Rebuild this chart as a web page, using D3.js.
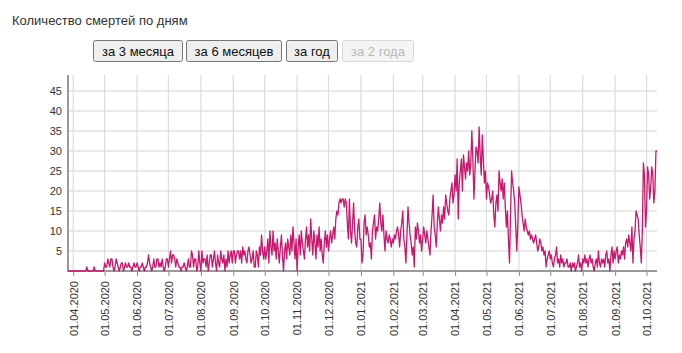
<!DOCTYPE html>
<html>
<head>
<meta charset="utf-8">
<script src="https://cdn.jsdelivr.net/npm/d3@7"></script>
<style>
  body { margin: 0; background: #fff; }
  svg { display: block; font-family: Arial, "Liberation Sans", sans-serif; }
</style>
</head>
<body>
<svg id="chart" width="682" height="353"></svg>
<script>
// daily deaths, first value is 27.03.2020
const startDay = new Date(2020, 2, 27);
const mar2020 = [0,0,0,0,0];
const apr2020 = [0,0,0,0,0,0,0,0,0,0,0,0,0,1,0,0,0,0,0,0,1,0,0,0,0,0,0,0,0,0];
const may2020 = [2,1,1,3,2,1,3,3,1,0,1,3,2,1,0,1,2,2,0,1,2,1,1,2,1,1,0,1,2,1,1];
const jun2020 = [2,1,0,1,1,2,1,0,1,1,2,4,2,1,0,1,3,1,1,3,3,1,2,1,3,1,0,1,3,3];
const jul2020 = [1,3,5,2,4,4,3,1,3,2,1,1,0,1,1,2,1,0,1,3,1,1,5,4,1,3,3,0,1,5,2];
const aug2020 = [0,5,2,3,3,1,4,0,2,4,4,1,3,5,2,0,4,2,1,5,3,2,4,0,3,1,5,2,4,5,2];
const sep2020 = [5,5,2,4,5,5,3,5,2,6,4,5,3,2,5,6,4,2,3,5,1,1,5,4,1,6,4,9,5,3];
const oct2020 = [6,3,5,8,2,10,6,4,10,5,7,3,8,5,2,6,9,4,0,5,7,3,8,6,4,9,5,11,7,3,8];
const nov2020 = [0,6,9,4,10,7,5,3,8,11,6,9,5,13,8,4,10,7,3,9,6,11,5,8,4,2,7,10,6,9];
const dec2020 = [5,8,10,7,9,11,8,13,15,14,17,18,17,18,18,16,18,17,12,8,18,10,7,12,17,10,7,6,11,13,8];
const jan2021 = [8,2,4,12,14,9,11,9,6,7,3,10,12,14,8,11,10,13,17,12,10,14,9,5,10,8,7,9,8,6,8];
const feb2021 = [7,9,8,10,11,9,6,10,12,15,8,6,2,9,16,12,9,7,4,6,1,11,8,12,10,7,9,5];
const mar2021 = [8,11,9,7,10,8,6,4,10,14,19,11,9,6,12,16,13,10,14,12,16,13,19,17,15,14,18,20,22,17,19];
const apr2021 = [24,20,28,13,22,25,28,20,29,26,23,27,25,30,24,27,35,28,18,25,31,30,27,36,29,24,34,28,22,25];
const may2021 = [18,22,21,19,17,18,20,14,11,17,19,15,25,22,20,23,18,22,16,11,15,8,2,14,25,22,20,17,11,5,12];
const jun2021 = [21,19,17,14,12,10,13,11,10,9,10,8,9,8,7,8,9,7,5,6,8,7,5,6,4,5,1,3,4,5];
const jul2021 = [3,4,2,1,3,4,6,2,3,1,4,2,3,1,2,2,3,1,1,2,0,2,1,2,0,1,2,4,1,2,0];
const aug2021 = [3,2,4,2,3,1,3,4,2,3,1,0,2,3,1,5,2,1,3,2,3,1,4,5,2,3,0,4,6,2,5];
const sep2021 = [3,5,6,2,4,3,5,4,6,3,7,8,6,9,7,5,11,2,8,10,15,14,13,9,6,2,10,27,24,11];
const oct2021 = [15,26,24,18,21,26,24,17,20,30,30];

const deaths = [].concat(mar2020, apr2020, may2020, jun2020, jul2020, aug2020, sep2020,
    oct2020, nov2020, dec2020, jan2021, feb2021, mar2021, apr2021, may2021, jun2021,
    jul2021, aug2021, sep2021, oct2021);

const yTicks = [5, 10, 15, 20, 25, 30, 35, 40, 45];
const title = 'Количество смертей по дням';
const buttons = ['за 3 месяца', 'за 6 месяцев', 'за год', 'за 2 года'];

const data = deaths.map((v, i) => ({ date: d3.timeDay.offset(startDay, i), value: v }));

const svg = d3.select('#chart');
const margin = { left: 68, right: 657, top: 75, bottom: 271 };
const lineColor = '#c8186e';

// title
svg.append('text')
    .attr('x', 12)
    .attr('y', 25)
    .attr('font-size', 13)
    .attr('fill', '#333')
    .text(title);

// period buttons
const btnX = [93, 186, 286, 342];
const btnW = [89, 95, 51, 71];
const btn = svg.append('g').selectAll('g')
    .data(buttons)
    .join('g')
    .attr('transform', (d, i) => `translate(${btnX[i]},40)`);

btn.append('rect')
    .attr('x', 0.5)
    .attr('y', 0.5)
    .attr('width', (d, i) => btnW[i])
    .attr('height', 21)
    .attr('rx', 2)
    .attr('fill', (d, i) => i === 3 ? '#f4f4f4' : '#efefef')
    .attr('stroke', (d, i) => i === 3 ? '#d8d8d8' : '#767676');

btn.append('text')
    .attr('x', (d, i) => btnW[i] / 2 + 0.5)
    .attr('y', 16)
    .attr('text-anchor', 'middle')
    .attr('font-size', 13)
    .attr('fill', (d, i) => i === 3 ? '#b8b8b8' : '#111')
    .text(d => d);

// scales
const x = d3.scaleTime()
    .domain(d3.extent(data, d => d.date))
    .range([margin.left, margin.right]);

const y = d3.scaleLinear()
    .domain([0, 49])
    .range([margin.bottom, margin.top]);

const monthTicks = d3.timeMonth.range(new Date(2020, 3, 1), new Date(2021, 9, 2));
const fmt = d3.timeFormat('%d.%m.%Y');

// grid
svg.append('g')
    .selectAll('line')
    .data(yTicks)
    .join('line')
    .attr('x1', margin.left)
    .attr('x2', margin.right)
    .attr('y1', d => y(d))
    .attr('y2', d => y(d))
    .attr('stroke', '#e2e2e2')
    .attr('stroke-width', 1.5);

svg.append('g')
    .selectAll('line')
    .data(monthTicks)
    .join('line')
    .attr('x1', d => x(d))
    .attr('x2', d => x(d))
    .attr('y1', margin.top)
    .attr('y2', margin.bottom)
    .attr('stroke', '#dcdcdc')
    .attr('stroke-width', 1.2);

// axes
const yAxis = svg.append('g')
    .attr('transform', `translate(${margin.left},0)`)
    .call(d3.axisLeft(y).tickValues(yTicks).tickSize(0).tickPadding(6));
yAxis.select('.domain').remove();
yAxis.selectAll('text').attr('font-size', 11).attr('fill', '#333').attr('font-family', null);

const xAxis = svg.append('g')
    .attr('transform', `translate(0,${margin.bottom})`)
    .call(d3.axisBottom(x).tickValues(monthTicks).tickFormat(fmt).tickSize(5).tickSizeOuter(0));
xAxis.select('.domain').remove();
xAxis.selectAll('line').attr('stroke', '#888');
xAxis.selectAll('text')
    .attr('font-size', 11)
    .attr('fill', '#333')
    .attr('font-family', null)
    .attr('transform', 'rotate(-90)')
    .attr('text-anchor', 'end')
    .attr('x', -10)
    .attr('y', 0)
    .attr('dy', '0.35em');

svg.append('line')
    .attr('x1', margin.left)
    .attr('x2', margin.left)
    .attr('y1', margin.top)
    .attr('y2', margin.bottom)
    .attr('stroke', '#999')
    .attr('stroke-width', 2);

svg.append('line')
    .attr('x1', margin.left - 1)
    .attr('x2', margin.right)
    .attr('y1', margin.bottom)
    .attr('y2', margin.bottom)
    .attr('stroke', '#999')
    .attr('stroke-width', 2);

// series
const line = d3.line()
    .x(d => x(d.date))
    .y(d => y(d.value));

svg.append('path')
    .datum(data)
    .attr('fill', 'none')
    .attr('stroke', lineColor)
    .attr('stroke-width', 1.3)
    .attr('stroke-linejoin', 'round')
    .attr('d', line);
</script>
</body>
</html>
